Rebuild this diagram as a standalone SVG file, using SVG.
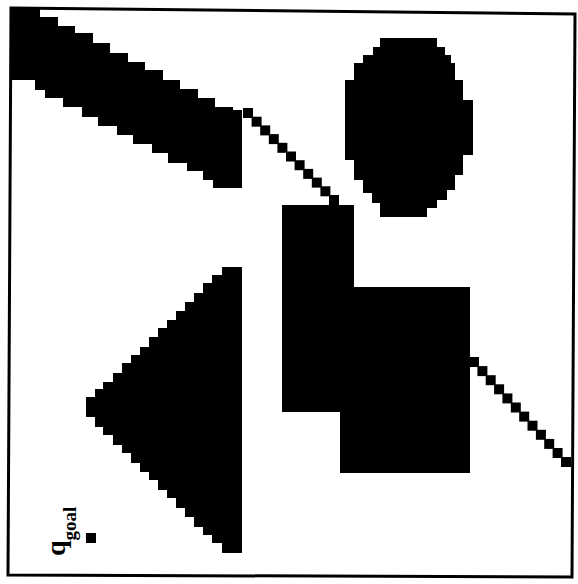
<svg xmlns="http://www.w3.org/2000/svg" width="578" height="584" viewBox="0 0 578 584">
<style>
.obs{fill:#000;stroke:none}
.step{fill:#000}
.frame{fill:none;stroke:#000;stroke-width:3;stroke-linejoin:miter}
.lbl{font-family:"Liberation Serif","Times New Roman",serif;font-weight:bold;fill:#000}
</style>
<rect x="0" y="0" width="578" height="584" fill="#fff"/>
<g id="frame"><polygon class="frame" points="11,8 575,14 572,577 8,575"/></g>
<g id="obstacles">
<path id="band" class="obs" d="M11,8 H40 V17 H58 V26 H75 V33 H93 V43 H110 V53 H128 V62 H145 V70 H163 V80 H180 V89 H198 V98 H215 V107 H233 V110 H242 V188 H213 V180 H203 V171 H187 V163 H168 V153 H152 V144 H133 V135 H117 V126 H98 V117 H82 V107 H63 V98 H45 V90 H35 V80 H11 Z"/>
<path id="ellipse" class="obs" d="M380,38 H437 V47 H445 V55 H451 V63 H455 V80 H463 V100 H473 V155 H463 V175 H455 V190 H447 V200 H437 V208 H427 V217 H380 V203 H372 V193 H363 V180 H354 V160 H345 V80 H354 V63 H363 V55 H373 V47 H380 Z"/>
<path id="block" class="obs" d="M282,205 H354 V287 H470 V473 H340 V412 H282 Z"/>
<path id="triangle" class="obs" d="M242,267 H222 V275 H212 V283 H203 V293 H194 V302 H185 V311 H176 V320 H167 V328 H158 V337 H149 V347 H140 V355 H131 V363 H122 V373 H113 V382 H103 V389 H95 V397 H86 V417 H95 V427 H103 V435 H113 V445 H122 V453 H131 V463 H140 V472 H149 V480 H158 V490 H167 V498 H176 V508 H185 V517 H194 V527 H203 V535 H212 V543 H222 V553 H242 Z"/>
</g>
<g id="connectors">
<g id="path1">
<rect class="step" x="243" y="108" width="10" height="10"/>
<rect class="step" x="251.6" y="116.7" width="10" height="10"/>
<rect class="step" x="260.2" y="125.4" width="10" height="10"/>
<rect class="step" x="268.8" y="134.1" width="10" height="10"/>
<rect class="step" x="277.4" y="142.8" width="10" height="10"/>
<rect class="step" x="286" y="151.5" width="10" height="10"/>
<rect class="step" x="294.6" y="160.2" width="10" height="10"/>
<rect class="step" x="303.2" y="168.9" width="10" height="10"/>
<rect class="step" x="311.8" y="177.6" width="10" height="10"/>
<rect class="step" x="320.4" y="186.3" width="10" height="10"/>
<rect class="step" x="329" y="195" width="10" height="10"/>
</g>
<g id="path2">
<rect class="step" x="469" y="357" width="10" height="10"/>
<rect class="step" x="477.4" y="366.1" width="10" height="10"/>
<rect class="step" x="485.7" y="375.2" width="10" height="10"/>
<rect class="step" x="494.1" y="384.3" width="10" height="10"/>
<rect class="step" x="502.4" y="393.4" width="10" height="10"/>
<rect class="step" x="510.8" y="402.5" width="10" height="10"/>
<rect class="step" x="519.2" y="411.6" width="10" height="10"/>
<rect class="step" x="527.5" y="420.7" width="10" height="10"/>
<rect class="step" x="535.9" y="429.8" width="10" height="10"/>
<rect class="step" x="544.2" y="438.9" width="10" height="10"/>
<rect class="step" x="552.6" y="448" width="10" height="10"/>
<rect class="step" x="561" y="457" width="10" height="10"/>
</g>
</g>
<g id="goal">
<rect class="obs" x="86" y="533" width="10" height="10"/>
<text class="lbl" transform="translate(65,556) rotate(-90)" font-size="28">q<tspan font-size="19" dy="11">goal</tspan></text>
</g>
</svg>
